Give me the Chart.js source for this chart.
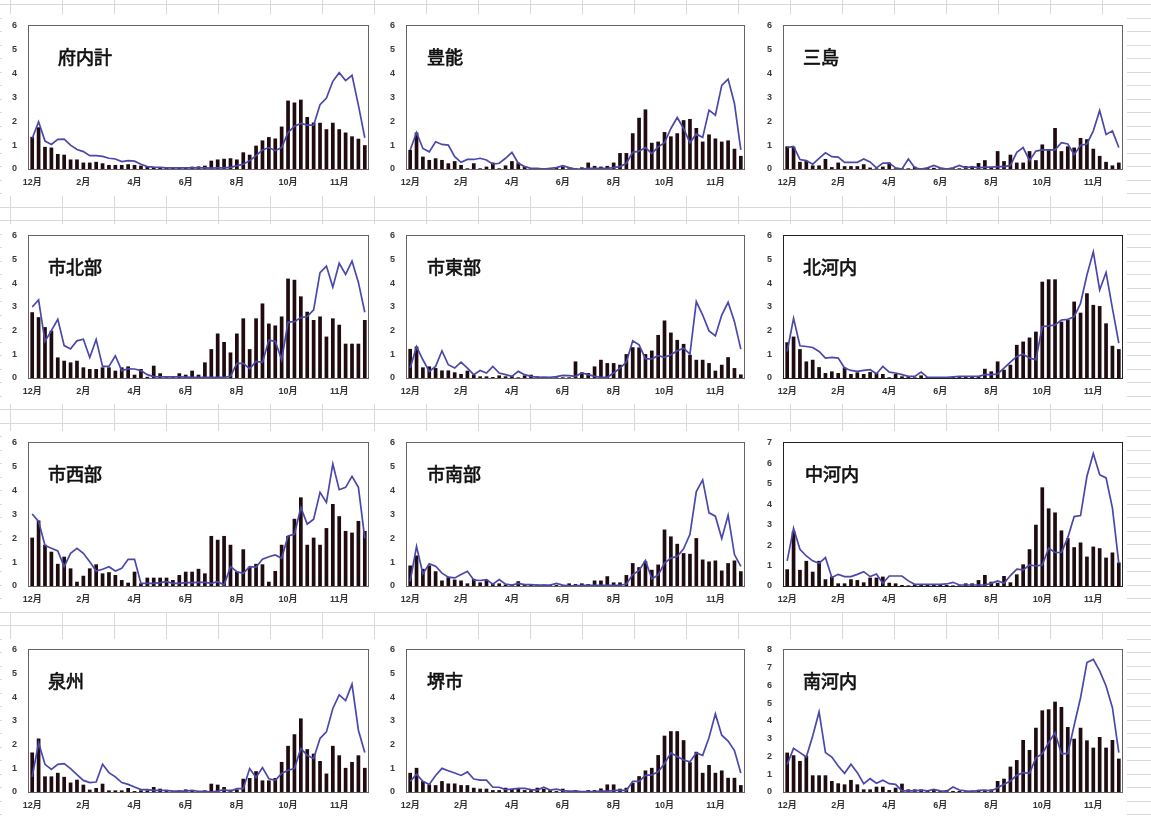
<!DOCTYPE html>
<html lang="ja">
<head>
<meta charset="utf-8">
<title>地域別 週別推移</title>
<script src="https://cdn.jsdelivr.net/npm/chart.js@4.4.1/dist/chart.umd.min.js"></script>
<style>
  html, body { margin: 0; padding: 0; background: #fff; }
  body { width: 1151px; height: 821px; position: relative; overflow: hidden; }
  #sheet { position: absolute; left: 0; top: 0; }
  .box { position: absolute; background: #fff; }
  canvas.chart { position: absolute; }
</style>
</head>
<body>
<canvas id="sheet" width="1151" height="821"></canvas>
<script>
// ---- axis labels ----
const monthTicks = ['12月', '2月', '4月', '6月', '8月', '10月', '11月'];
const tickEvery = 8;     // one month label every 8 weeks
const weekCount = 53;

// ---- weekly values per area (bars) and the comparison line ----
const fuNaiKeiBars = [1.35,1.75,0.93,0.9,0.63,0.6,0.4,0.4,0.27,0.27,0.3,0.24,0.17,0.17,0.17,0.2,0.17,0.14,0.1,0.08,0.07,0.05,0.05,0.07,0.07,0.1,0.11,0.14,0.35,0.4,0.43,0.45,0.4,0.7,0.6,0.98,1.2,1.34,1.28,1.78,2.87,2.79,2.91,2.18,1.95,1.94,1.67,1.94,1.67,1.53,1.37,1.27,1.0];
const fuNaiKeiLine = [1.28,1.98,1.17,1.03,1.24,1.25,1.0,0.82,0.73,0.56,0.56,0.53,0.45,0.42,0.31,0.35,0.33,0.2,0.1,0.08,0.07,0.05,0.05,0.05,0.05,0.05,0.05,0.05,0.04,0.05,0.05,0.07,0.14,0.2,0.35,0.56,0.8,0.9,0.77,0.9,1.53,1.8,1.91,1.84,1.84,2.7,2.98,3.68,4.04,3.71,3.93,2.68,1.31];

const toyonoBars = [0.8,1.53,0.52,0.38,0.45,0.38,0.24,0.33,0.17,0.03,0.24,0.03,0.1,0.27,0.03,0.15,0.33,0.27,0.1,0.03,0.03,0.03,0.03,0.07,0.1,0.03,0.03,0.07,0.27,0.13,0.1,0.13,0.27,0.67,0.67,1.5,2.15,2.5,1.1,1.15,1.55,1.37,1.5,2.05,2.1,1.72,1.15,1.45,1.28,1.15,1.2,0.85,0.55];
const toyonoLine = [0.8,1.53,0.86,0.72,1.14,1.03,1.0,0.52,0.28,0.4,0.4,0.45,0.38,0.2,0.24,0.45,0.7,0.24,0.1,0.03,0.03,0,0.03,0.06,0.14,0.06,0,0,0.03,0.03,0.03,0.03,0.06,0.1,0.24,0.7,0.75,0.9,0.65,0.93,1.1,1.7,2.16,1.7,1.1,1.47,1.32,2.47,2.26,3.51,3.77,2.75,0.8];

const mishimaBars = [0.95,0.93,0.3,0.35,0.15,0.15,0.42,0.08,0.27,0.12,0.12,0.12,0.2,0.06,0.03,0.1,0.27,0.03,0.03,0.03,0.1,0.03,0.05,0.05,0.03,0.03,0.03,0.03,0.12,0.12,0.25,0.37,0.05,0.75,0.33,0.6,0.27,0.27,0.75,0.37,1.03,0.82,1.72,0.75,0.95,0.9,1.3,1.25,0.85,0.55,0.3,0.15,0.27];
const mishimaLine = [0.9,0.95,0.4,0.35,0.2,0.45,0.68,0.52,0.5,0.28,0.28,0.28,0.42,0.3,0.05,0.25,0.25,0.05,0.0,0.42,0.05,0.0,0.05,0.15,0.05,0.0,0.05,0.15,0.05,0.1,0.05,0.08,0.08,0.1,0.1,0.15,0.7,0.9,0.35,0.75,0.8,0.8,0.8,1.1,1.05,0.6,1.0,1.05,1.6,2.45,1.45,1.6,0.9];

const shiHokubuBars = [2.78,2.57,2.15,2.0,0.87,0.73,0.66,0.73,0.45,0.38,0.38,0.45,0.45,0.31,0.45,0.49,0.14,0.38,0.05,0.52,0.2,0.03,0.03,0.2,0.14,0.31,0.14,0.66,1.22,1.88,1.52,1.08,1.88,2.52,1.22,2.52,3.15,2.3,2.22,2.6,4.2,4.15,3.45,2.8,2.45,2.6,1.75,2.52,2.25,1.45,1.45,1.45,2.45];
const shiHokubuLine = [3.0,3.3,1.55,2.0,2.48,1.37,1.23,1.57,1.64,0.87,1.63,0.49,0.49,0.94,0.31,0.39,0.38,0.31,0.14,0.06,0.05,0.05,0.05,0.05,0.04,0.03,0.03,0.03,0.03,0.03,0.03,0.07,0.62,0.62,0.39,0.7,0.66,1.6,1.55,0.77,2.36,2.38,2.55,2.6,2.88,4.45,4.73,3.84,4.85,4.38,4.94,4.04,2.78];

const shiTobuBars = [1.23,1.33,0.45,0.49,0.42,0.32,0.32,0.24,0.17,0.31,0.14,0.07,0.07,0.04,0.11,0.07,0.07,0.03,0.11,0.14,0.07,0.04,0.04,0.03,0.03,0.03,0.7,0.24,0.21,0.49,0.77,0.63,0.63,0.56,1.01,1.3,1.29,1.01,1.16,1.82,2.43,1.92,1.61,1.44,0.98,0.77,0.77,0.63,0.31,0.56,0.88,0.42,0.15];
const shiTobuLine = [0.42,1.33,0.77,0.28,0.49,1.15,0.56,0.42,0.67,0.42,0.14,0.32,0.21,0.49,0.21,0.14,0.07,0.28,0.14,0.07,0.03,0.04,0.03,0.06,0.11,0.1,0.07,0.21,0.14,0.07,0.03,0.03,0.21,0.42,0.67,1.57,1.4,0.81,0.81,0.94,0.87,0.98,1.15,1.26,1.01,3.23,2.66,1.99,1.78,2.66,3.2,2.38,1.22];

const kitaKawachiBars = [1.51,1.75,1.22,0.7,0.77,0.46,0.21,0.28,0.21,0.45,0.17,0.24,0.17,0.25,0.21,0.17,0.03,0.17,0.07,0.04,0.03,0.11,0.04,0.04,0.03,0.04,0.04,0.04,0.04,0.07,0.07,0.39,0.28,0.7,0.35,0.56,1.4,1.54,1.71,1.96,4.07,4.17,4.17,2.38,2.45,3.23,2.76,3.58,3.09,3.04,2.31,1.36,1.22];
const kitaKawachiLine = [1.12,2.52,1.36,1.33,1.29,1.12,0.84,0.87,0.84,0.42,0.32,0.28,0.32,0.35,0.18,0.49,0.25,0.21,0.14,0.07,0.07,0.25,0.03,0.03,0.03,0.03,0.05,0.07,0.07,0.07,0.07,0.14,0.14,0.17,0.42,0.67,0.91,1.01,0.84,0.77,2.17,2.2,2.24,2.45,2.48,2.59,3.15,4.35,5.33,3.72,4.46,2.94,1.47];

const shiSeibuBars = [2.03,2.75,1.73,1.44,0.93,1.23,0.74,0.18,0.43,0.74,0.91,0.53,0.58,0.46,0.25,0.14,0.6,0.11,0.35,0.35,0.35,0.35,0.25,0.46,0.6,0.6,0.72,0.53,2.1,1.94,2.1,1.73,0.6,1.54,0.81,0.93,0.91,0.18,0.63,1.73,2.1,2.82,3.72,1.73,2.03,1.73,2.43,3.44,2.93,2.31,2.24,2.73,2.31];
const shiSeibuLine = [3.02,2.71,1.7,1.58,1.47,0.81,1.37,1.58,1.37,1.02,0.63,0.7,0.81,0.63,0.74,1.12,1.12,0.11,0.11,0.11,0.14,0.18,0.11,0.11,0.14,0.14,0.15,0.15,0.11,0.18,0.04,0.81,0.6,0.53,0.81,0.79,1.12,1.23,1.3,1.16,2.1,2.17,3.3,2.6,2.8,3.93,3.51,5.12,4.04,4.14,4.6,4.14,2.0];

const shiNanbuBars = [0.86,1.28,0.72,0.86,0.62,0.23,0.37,0.27,0.23,0.11,0.3,0.15,0.27,0.08,0.11,0.06,0.06,0.2,0.08,0.08,0.06,0.06,0.04,0.04,0.03,0.11,0.08,0.11,0.08,0.23,0.23,0.41,0.15,0.15,0.46,0.96,0.79,1.04,0.68,0.9,2.37,2.08,1.77,1.38,1.35,2.01,1.11,1.03,1.07,0.65,0.96,1.07,0.62];
const shiNanbuLine = [0.2,1.66,0.51,0.93,0.83,0.54,0.37,0.34,0.48,0.62,0.25,0.23,0.27,0.08,0.27,0.08,0.04,0.11,0.06,0.06,0.04,0.04,0.04,0.11,0.04,0.01,0.01,0.03,0.03,0.03,0.03,0.03,0.03,0.03,0.08,0.48,0.65,1.07,0.3,0.46,0.96,1.17,1.24,1.56,2.17,3.96,4.45,3.07,2.93,1.99,2.97,1.32,0.82];

const nakaKawachiBars = [0.82,2.67,0.79,1.23,0.7,1.23,0.33,0.46,0.13,0.13,0.33,0.29,0.18,0.41,0.41,0.46,0.16,0.13,0.05,0.03,0.08,0.08,0.08,0.08,0.08,0.05,0.03,0.03,0.13,0.13,0.29,0.54,0.21,0.16,0.49,0.18,0.57,1.06,1.8,3.0,4.83,3.8,3.6,2.72,2.34,1.9,2.13,1.44,1.93,1.85,1.39,1.64,1.15];
const nakaKawachiLine = [1.23,2.83,1.8,1.47,1.23,1.11,1.39,0.41,0.57,0.46,0.46,0.57,0.7,0.46,0.59,0.13,0.49,0.49,0.49,0.25,0.08,0.08,0.08,0.08,0.08,0.1,0.18,0.05,0.05,0.05,0.05,0.05,0.13,0.25,0.13,0.51,0.82,0.79,1.03,0.98,1.03,1.85,1.64,1.65,2.37,3.4,3.45,5.37,6.48,5.45,5.29,3.81,1.11];

const senshuBars = [1.67,2.26,0.66,0.66,0.81,0.64,0.4,0.52,0.31,0.1,0.17,0.35,0.07,0.07,0.07,0.17,0.04,0.07,0.07,0.21,0.14,0.04,0.04,0.07,0.11,0.07,0.03,0.07,0.35,0.31,0.21,0.1,0.11,0.56,0.59,0.88,0.49,0.49,0.59,1.27,1.95,2.44,3.11,1.81,1.62,1.31,0.78,1.95,1.55,1.02,1.27,1.55,1.02];
const senshuLine = [0.64,2.08,1.17,0.95,1.17,1.2,0.99,0.73,0.49,0.4,0.42,1.17,0.82,0.64,0.4,0.32,0.21,0.1,0.1,0.07,0.07,0.07,0.04,0.04,0.04,0.07,0.03,0.03,0.0,0.04,0.1,0.04,0.14,0.14,0.99,0.61,1.03,0.56,0.49,0.78,0.92,0.99,1.84,1.55,1.41,2.26,2.54,3.53,4.1,3.86,4.56,2.61,1.67];

const sakaiBars = [0.81,1.02,0.46,0.32,0.29,0.46,0.36,0.36,0.29,0.29,0.18,0.14,0.14,0.08,0.08,0.18,0.14,0.15,0.08,0.08,0.18,0.14,0.08,0.04,0.14,0.04,0.08,0.04,0.08,0.08,0.15,0.32,0.32,0.14,0.18,0.39,0.67,0.91,1.02,1.56,2.38,2.57,2.57,2.19,1.26,1.7,0.81,1.14,0.81,0.91,0.6,0.6,0.29];
const sakaiLine = [0.45,0.75,0.45,0.32,0.7,1.0,0.9,0.8,0.7,0.85,0.55,0.5,0.5,0.2,0.2,0.1,0.12,0.15,0.15,0.1,0.08,0.2,0.08,0.12,0.06,0.04,0.04,0.02,0.02,0.02,0.04,0.04,0.06,0.08,0.06,0.45,0.45,0.7,0.72,0.85,1.2,1.65,1.5,1.35,1.28,1.65,1.55,2.3,3.3,2.4,2.15,1.75,0.8];

const minamiKawachiBars = [2.22,2.07,1.75,2.03,0.94,0.94,0.94,0.62,0.49,0.43,0.68,0.43,0.15,0.15,0.3,0.3,0.11,0.24,0.47,0.15,0.15,0.15,0.09,0.11,0.06,0.11,0.06,0.06,0.04,0.09,0.11,0.06,0.15,0.62,0.75,1.43,1.8,2.93,2.37,3.62,4.6,4.66,5.09,4.79,3.66,3.0,3.62,2.91,2.5,3.1,2.5,2.93,1.88];
const minamiKawachiLine = [1.56,2.46,2.22,1.97,3.15,4.51,2.22,1.97,1.46,1.05,1.56,1.09,0.47,0.75,0.49,0.66,0.47,0.43,0.06,0.06,0.06,0.11,0.06,0.15,0.06,0.04,0.28,0.11,0.06,0.02,0.09,0.11,0.06,0.24,0.43,0.62,0.94,1.09,1.05,1.93,2.16,2.78,3.34,2.16,2.16,3.76,5.31,7.29,7.47,6.82,5.97,4.75,2.22];

// area names and y-axis maxima, in grid order
const areaNames = ['府内計', '豊能', '三島', '市北部', '市東部', '北河内', '市西部', '市南部', '中河内', '泉州', '堺市', '南河内'];
const areaBars = [fuNaiKeiBars, toyonoBars, mishimaBars, shiHokubuBars, shiTobuBars, kitaKawachiBars, shiSeibuBars, shiNanbuBars, nakaKawachiBars, senshuBars, sakaiBars, minamiKawachiBars];
const areaLines = [fuNaiKeiLine, toyonoLine, mishimaLine, shiHokubuLine, shiTobuLine, kitaKawachiLine, shiSeibuLine, shiNanbuLine, nakaKawachiLine, senshuLine, sakaiLine, minamiKawachiLine];
const yMax = [6, 6, 6, 6, 6, 6, 6, 6, 7, 6, 6, 8];

// category labels: a month name on every 8th week
const categories = Array.from({ length: weekCount }, (_, i) => (i % tickEvery === 0 ? monthTicks[i / tickEvery] : ''));

// ---- page layout (plot rectangles in page pixels) ----
const colLeft = [29, 407, 784];
const colRight = [368, 744, 1122];
const rowTop = [26, 236, 443, 650];
const rowBottom = [169, 378, 586, 792];
const titleInset = [29, 20, 19, 19, 20, 19, 19, 20, 21, 19, 20, 19];

// spreadsheet cells behind the chart objects
(function drawSheet() {
  const c = document.getElementById('sheet').getContext('2d');
  c.fillStyle = '#fff';
  c.fillRect(0, 0, 1151, 821);
  c.strokeStyle = '#d9d9d9';
  c.lineWidth = 1;
  for (let x = 10; x < 1151; x += 52) {
    c.beginPath(); c.moveTo(x + 0.5, 0); c.lineTo(x + 0.5, 821); c.stroke();
  }
  for (let y = 4; y < 821; y += 13.5) {
    const yy = Math.round(y) + 0.5;
    c.beginPath(); c.moveTo(0, yy); c.lineTo(1151, yy); c.stroke();
  }
})();

const boxCols = [[2, 383], [383, 760], [760, 1127]];
const boxRows = [[14, 196], [224, 404], [431, 612], [639, 821]];

const frame = {
  id: 'frame',
  afterDatasetsDraw(chart) {
    const a = chart.chartArea, c = chart.ctx;
    c.save();
    c.strokeStyle = chart.options.plugins.frame.color;
    c.lineWidth = 1;
    c.strokeRect(Math.round(a.left) - 0.5, Math.round(a.top) - 0.5, Math.round(a.right - a.left) + 1, Math.round(a.bottom - a.top) + 1);
    c.restore();
  }
};

// area name written inside the upper-left of the plot
const areaTitle = {
  id: 'areaTitle',
  afterDraw(chart) {
    const o = chart.options.plugins.areaTitle;
    const a = chart.chartArea, c = chart.ctx;
    c.save();
    c.fillStyle = '#111';
    c.strokeStyle = '#111';
    c.lineWidth = 0.7;
    c.font = '18px "Noto Sans CJK JP", sans-serif';
    c.textBaseline = 'middle';
    c.fillText(o.text, a.left + o.dx, a.top + 31);
    c.strokeText(o.text, a.left + o.dx, a.top + 31);
    c.restore();
  }
};

const padL = 26, padT = 6, padR = 4, padB = 22;

areaNames.forEach((name, k) => {
  const col = k % 3, row = Math.floor(k / 3);
  const box = document.createElement('div');
  box.className = 'box';
  box.style.left = boxCols[col][0] + 'px';
  box.style.top = boxRows[row][0] + 'px';
  box.style.width = (boxCols[col][1] - boxCols[col][0]) + 'px';
  box.style.height = (boxRows[row][1] - boxRows[row][0]) + 'px';
  document.body.appendChild(box);

  const L = colLeft[col], R = colRight[col], T = rowTop[row], B = rowBottom[row];
  const cv = document.createElement('canvas');
  cv.className = 'chart';
  cv.width = R - L + padL + padR;
  cv.height = B - T + padT + padB;
  cv.style.left = (L - padL) + 'px';
  cv.style.top = (T - padT) + 'px';
  document.body.appendChild(cv);

  new Chart(cv, {
    data: {
      labels: categories,
      datasets: [
        { type: 'line', data: areaLines[k], borderColor: '#4a48aa', borderWidth: 1.7, pointRadius: 0, tension: 0, order: 0 },
        { type: 'bar', data: areaBars[k], backgroundColor: '#200c10', barPercentage: 0.58, categoryPercentage: 1, order: 1 }
      ]
    },
    options: {
      responsive: false,
      animation: false,
      devicePixelRatio: 1,
      layout: { padding: { left: 0, top: padT, right: padR, bottom: 0 } },
      plugins: {
        legend: { display: false },
        tooltip: { enabled: false },
        frame: { color: k === 5 || k === 8 ? '#222' : '#6a6262' },
        areaTitle: { text: name, dx: titleInset[k] }
      },
      scales: {
        x: {
          offset: true,
          grid: { display: false, drawTicks: false },
          border: { display: false },
          ticks: {
            autoSkip: false, maxRotation: 0, minRotation: 0, padding: 8,
            color: '#333', font: { size: 9, weight: 'bold', family: 'Arial, "Liberation Sans", "Noto Sans CJK JP"' },
            callback: (v, i) => categories[i]
          },
          afterFit: s => { s.height = padB; s.paddingLeft = 0; s.paddingRight = 0; }
        },
        y: {
          min: 0, max: yMax[k],
          grid: { display: false, drawTicks: false },
          border: { display: false },
          ticks: { stepSize: 1, padding: 12, color: '#3a3a3a', font: { size: 9, weight: 'bold', family: 'Arial, "Liberation Sans"' } },
          afterFit: s => { s.width = padL; s.paddingTop = 0; s.paddingBottom = 0; }
        }
      }
    },
    plugins: [frame, areaTitle]
  });
});
</script>
</body>
</html>
